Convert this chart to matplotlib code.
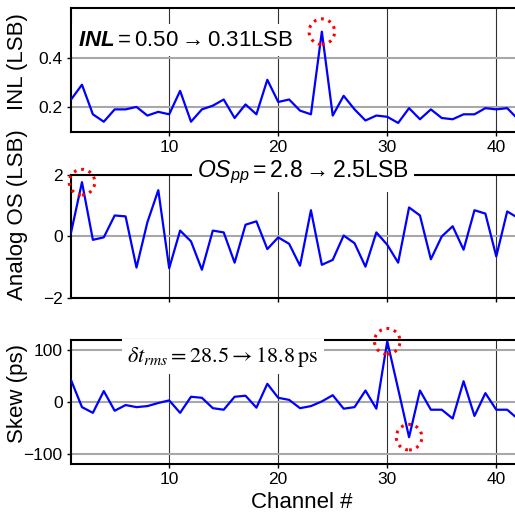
"""
Recreate the three-panel channel calibration chart (INL, offset, skew)
"""

import numpy as np
import matplotlib
matplotlib.use("Agg")
import matplotlib.pyplot as plt
import matplotlib.transforms as mtransforms
from matplotlib.patches import Circle

# Data
channels = np.arange(1, 43)

inl_lsb = [0.23, 0.29, 0.17, 0.14, 0.19, 0.19, 0.20, 0.165, 0.18, 0.17,
           0.265, 0.14, 0.19, 0.205, 0.23, 0.155, 0.21, 0.17, 0.31, 0.22,
           0.23, 0.185, 0.17, 0.505, 0.165, 0.245, 0.19, 0.145, 0.165, 0.16,
           0.135, 0.195, 0.15, 0.19, 0.155, 0.15, 0.17, 0.17, 0.195, 0.19,
           0.195, 0.15]

offset_lsb = [0.13, 1.76, -0.11, -0.03, 0.68, 0.65, -1.01, 0.46, 1.50, -1.03,
              0.19, -0.16, -1.08, 0.19, 0.13, -0.85, 0.38, 0.49, -0.41, -0.03,
              -0.24, -0.95, 0.85, -0.92, -0.76, 0.03, -0.22, -0.98, 0.13, -0.27,
              -0.85, 0.94, 0.68, -0.74, 0.0, 0.33, -0.43, 0.85, 0.74, -0.65,
              0.81, 0.60]

skew_ps = [42, -10, -21, 21, -17, -6, -10, -8, -2, 3,
           -21, 10, 8, -12, -15, 10, 12, -11, 35, 8,
           4, -12, -8, 1, 13, -13, -10, 22, -13, 117,
           25, -68, 22, -15, -15, -32, 40, -27, 17, -15,
           -15, -33]

x_ticks = [10, 20, 30, 40]
inl_ticks = [0.2, 0.4]
offset_ticks = [-2, 0, 2]
skew_ticks = [-100, 0, 100]

inl_text = r"$\mathbfit{INL} = 0.50 \rightarrow 0.31\mathrm{LSB}$"
offset_text = r"$OS_{pp} = 2.8 \rightarrow 2.5\mathrm{LSB}$"
skew_text = r"$\delta t_{rms} = 28.5 \rightarrow 18.8\,\mathrm{ps}$"

plt.rcParams['font.family'] = ['Liberation Sans', 'DejaVu Sans']
plt.rcParams['mathtext.fontset'] = 'custom'
plt.rcParams['mathtext.rm'] = 'Liberation Sans'
plt.rcParams['mathtext.it'] = 'Liberation Sans:italic'
plt.rcParams['mathtext.bf'] = 'Liberation Sans:bold'
plt.rcParams['mathtext.bfit'] = 'Liberation Sans:bold:italic'


def styler_axe(ax, valeurs, yticks, ylim, ylabel, label_y):
    """Axes MATLAB-like: grille horizontale grise, verticale foncee"""
    ax.plot(channels, valeurs, color='#0000ff', lw=1.6, zorder=3)
    ax.set_xlim(1, 42)
    ax.set_ylim(*ylim)
    ax.set_xticks(x_ticks)
    ax.set_yticks(yticks)
    ax.yaxis.grid(True, color='#a8a8a8', lw=1.5)
    ax.xaxis.grid(True, color='#303030', lw=0.8)
    ax.set_axisbelow(True)
    ax.tick_params(labelsize=12.5, direction='out', length=3, width=1, pad=3)
    for side in ['left', 'top', 'bottom']:
        ax.spines[side].set_linewidth(1.5)
    ax.spines['right'].set_visible(False)
    ax.set_ylabel(ylabel, fontsize=16)
    ax.yaxis.set_label_coords(-0.097, label_y)


def cercle_pointille(fig, ax, x, y):
    """Cercle rouge pointille autour d'un point"""
    trans = (mtransforms.Affine2D().scale(fig.dpi / 72.0)
             + mtransforms.ScaledTranslation(x, y, ax.transData))
    c = Circle((0, 0), radius=9.2, transform=trans, fill=False,
               edgecolor='red', lw=2.2, linestyle=(0, (0.9, 1.6)),
               clip_on=False, zorder=6)
    ax.add_patch(c)


def main():
    fig = plt.figure(figsize=(5.15, 5.14), dpi=100)
    left, width = 0.138, 0.868

    ax1 = fig.add_axes([left, 0.744, width, 0.240])
    ax2 = fig.add_axes([left, 0.420, width, 0.240])
    ax3 = fig.add_axes([left, 0.097, width, 0.242])

    styler_axe(ax1, inl_lsb, inl_ticks, (0.1, 0.6), 'INL (LSB)', 0.57)
    styler_axe(ax2, offset_lsb, offset_ticks, (-2, 2), 'Analog OS (LSB)', 0.675)
    styler_axe(ax3, skew_ps, skew_ticks, (-120, 120), 'Skew (ps)', 0.565)
    ax2.tick_params(labelbottom=False)

    ax3.set_xlabel('Channel #', fontsize=16)
    ax3.xaxis.set_label_coords(0.517, -0.225)

    box = dict(facecolor='white', edgecolor='none', pad=4)
    ax1.text(0.256, 0.742, inl_text, transform=ax1.transAxes, fontsize=16,
             ha='center', va='center', bbox=box, zorder=4)
    ax2.text(0.519, 1.016, offset_text, transform=ax2.transAxes, fontsize=16.6,
             ha='center', va='center', bbox=box, zorder=4)
    ax3.text(0.339, 0.863, skew_text, transform=ax3.transAxes, fontsize=16,
             math_fontfamily='stix',
             ha='center', va='center', bbox=box, zorder=4)

    # Cercles sur les pics
    i = int(np.argmax(inl_lsb))
    cercle_pointille(fig, ax1, channels[i], inl_lsb[i])
    i = int(np.argmax(offset_lsb))
    cercle_pointille(fig, ax2, channels[i], offset_lsb[i])
    i = int(np.argmax(skew_ps))
    cercle_pointille(fig, ax3, channels[i], skew_ps[i])
    i = int(np.argmin(skew_ps))
    cercle_pointille(fig, ax3, channels[i], skew_ps[i])

    fig.savefig('out.png', dpi=100)


if __name__ == "__main__":
    main()
